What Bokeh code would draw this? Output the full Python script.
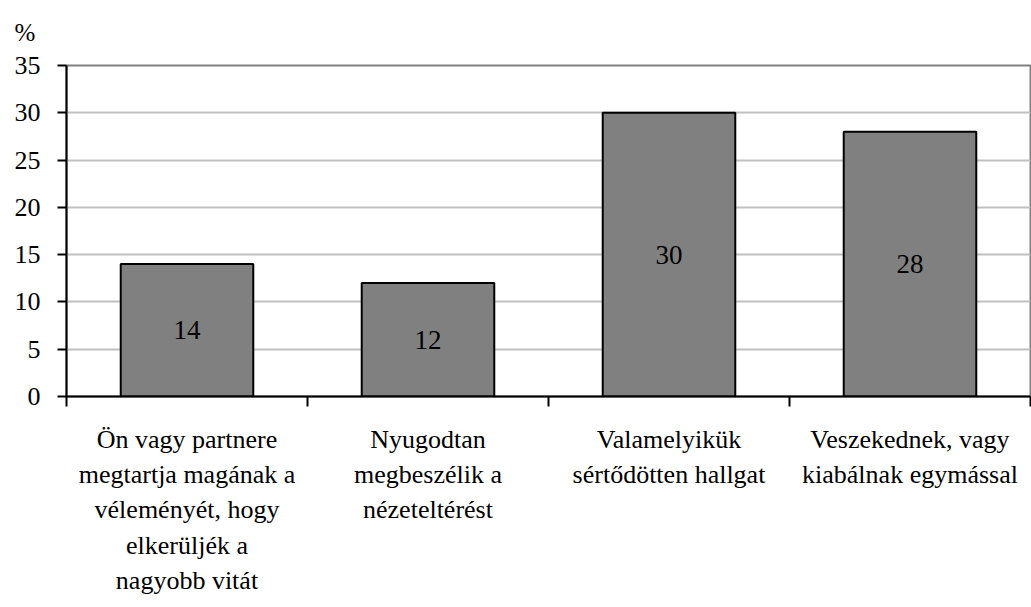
from bokeh.plotting import figure
from bokeh.models import FixedTicker, Range1d, ColumnDataSource
from bokeh.core.properties import value
from bokeh.embed import file_html
from bokeh.resources import INLINE

categories = [
    "Ön vagy partnere\nmegtartja magának a\nvéleményét, hogy\nelkerüljék a\nnagyobb vitát",
    "Nyugodtan\nmegbeszélik a\nnézeteltérést",
    "Valamelyikük\nsértődötten hallgat",
    "Veszekednek, vagy\nkiabálnak egymással",
]
values = [14, 12, 30, 28]
y_ticks = [0, 5, 10, 15, 20, 25, 30, 35]
unit_label = "%"

FONT = "Liberation Serif"

xs = [i + 0.5 for i in range(len(categories))]
src = ColumnDataSource(dict(x=xs, top=values, mid=[v / 2 for v in values],
                            lab=[str(v) for v in values]))

p = figure(width=1031, height=598, output_backend="svg", toolbar_location=None,
           x_range=Range1d(0, len(categories)), y_range=Range1d(0, 35),
           min_border_left=66, min_border_top=63, min_border_right=1, min_border_bottom=5)

# "%" unit label drawn as the (left-aligned) title above the frame
p.title.text = unit_label
p.title.text_font = FONT
p.title.text_font_size = "25px"
p.title.text_font_style = "normal"
p.title.text_color = "black"
p.title.align = "left"
p.title.offset = -52
p.title.vertical_align = "top"
p.title.text_line_height = 1.0
p.title.standoff = 36

p.outline_line_color = "#808080"
p.outline_line_width = 2

p.vbar(x="x", top="top", width=0.55, source=src, fill_color="#808080",
       line_color="black", line_width=2)
p.text(x="x", y="mid", text="lab", source=src, text_font=value(FONT),
       text_font_size="27px", text_align="center", text_baseline="middle",
       text_color="black")

# y axis
p.yaxis.ticker = FixedTicker(ticks=y_ticks)
p.yaxis.axis_line_color = "black"
p.yaxis.axis_line_width = 2
p.yaxis.major_tick_line_color = "black"
p.yaxis.major_tick_line_width = 2
p.yaxis.major_tick_out = 9
p.yaxis.major_tick_in = 0
p.yaxis.minor_tick_line_color = None
p.yaxis.major_label_text_font = FONT
p.yaxis.major_label_text_font_size = "26px"
p.yaxis.major_label_text_color = "black"
p.yaxis.major_label_standoff = 17

# x axis
p.xaxis.ticker = FixedTicker(ticks=xs, minor_ticks=list(range(len(categories) + 1)))
p.xaxis.major_label_overrides = {x: c for x, c in zip(xs, categories)}
p.xaxis.axis_line_color = "black"
p.xaxis.axis_line_width = 2
p.xaxis.major_tick_line_color = None
p.xaxis.major_tick_out = 0
p.xaxis.minor_tick_line_color = "black"
p.xaxis.minor_tick_line_width = 2
p.xaxis.minor_tick_out = 10
p.xaxis.minor_tick_in = 0
p.xaxis.major_label_text_font = FONT
p.xaxis.major_label_text_font_size = "26px"
p.xaxis.major_label_text_color = "black"
p.xaxis.major_label_text_line_height = 1.22
p.xaxis.major_label_standoff = 18
p.xaxis.major_label_orientation = "horizontal"

p.xgrid.grid_line_color = None
p.ygrid.grid_line_color = "#c0c0c0"
p.ygrid.grid_line_width = 2

open("out.html", "w").write(file_html(p, INLINE))
